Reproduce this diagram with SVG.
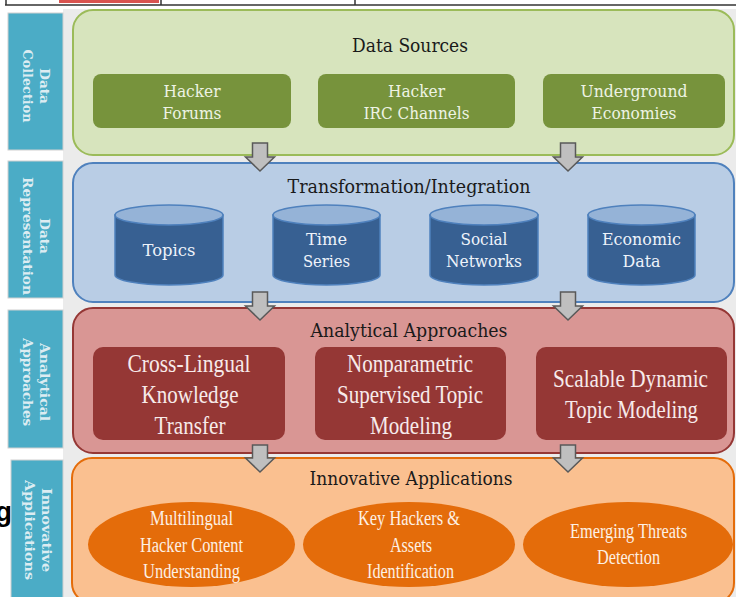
<svg xmlns="http://www.w3.org/2000/svg" width="736" height="597" viewBox="0 0 736 597">
<defs>
<style>
.side{fill:#4bacc6;stroke:#d0d0d0;stroke-width:1}
.sidet{font-family:"DejaVu Serif",serif;font-weight:bold;font-size:13.5px;fill:#dcecf2;text-anchor:middle}
.title{font-family:"DejaVu Serif",serif;font-size:18px;fill:#1a1a1a;text-anchor:middle}
.gt{font-family:"DejaVu Serif",serif;font-size:17px;fill:#eef3e4;text-anchor:middle}
.bt{font-family:"DejaVu Serif",serif;font-size:17px;fill:#eef3fa;text-anchor:middle}
.rt{font-family:"Liberation Serif",serif;font-size:26px;fill:#f7eaea;text-anchor:middle}
.ot{font-family:"Liberation Serif",serif;font-size:20px;fill:#fdf0e4;text-anchor:middle}
.arr{fill:#bfbfbf;stroke:#595959;stroke-width:1.5;stroke-linejoin:miter}
.cylb{fill:#376092;stroke:#4f81bd;stroke-width:1.5}
.cylt{fill:#95b3d7;stroke:#4f81bd;stroke-width:1.5}
</style>
</defs>
<rect x="0" y="0" width="736" height="597" fill="#ffffff"/>
<rect x="63" y="9" width="673" height="588" fill="#ebebeb"/>
<g id="topstrip">
<rect x="59" y="0" width="100" height="3" fill="#d9534f"/>
<line x1="5" y1="5" x2="736" y2="5" stroke="#333" stroke-width="1.5"/>
<line x1="6" y1="0" x2="6" y2="5" stroke="#333" stroke-width="1.5"/>
<line x1="161" y1="0" x2="161" y2="5" stroke="#333" stroke-width="1.5"/>
<line x1="355" y1="0" x2="355" y2="5" stroke="#333" stroke-width="1.5"/>
</g>
<text x="-5" y="521" font-family="Liberation Sans,sans-serif" font-weight="bold" font-size="28" fill="#000">g</text>
<g id="side-collection">
<rect class="side" x="8" y="13" width="55" height="137"/>
<g transform="translate(35.5,86) rotate(90)"><text class="sidet" x="0" y="-4.5" textLength="36" lengthAdjust="spacingAndGlyphs">Data</text><text class="sidet" x="0" y="12.5" textLength="73" lengthAdjust="spacingAndGlyphs">Collection</text></g>
</g>
<g id="side-representation">
<rect class="side" x="8" y="161" width="55" height="137"/>
<g transform="translate(35.5,236) rotate(90)"><text class="sidet" x="0" y="-4.5" textLength="36" lengthAdjust="spacingAndGlyphs">Data</text><text class="sidet" x="0" y="12.5" textLength="118" lengthAdjust="spacingAndGlyphs">Representation</text></g>
</g>
<g id="side-analytical">
<rect class="side" x="8" y="310" width="55" height="138"/>
<g transform="translate(35.5,382) rotate(90)"><text class="sidet" x="0" y="-4.5" textLength="78" lengthAdjust="spacingAndGlyphs">Analytical</text><text class="sidet" x="0" y="12.5" textLength="88" lengthAdjust="spacingAndGlyphs">Approaches</text></g>
</g>
<g id="side-innovative">
<rect class="side" x="11" y="460" width="52" height="140"/>
<g transform="translate(37,530) rotate(90)"><text class="sidet" x="0" y="-4.5" textLength="84" lengthAdjust="spacingAndGlyphs">Innovative</text><text class="sidet" x="0" y="12.5" textLength="100" lengthAdjust="spacingAndGlyphs">Applications</text></g>
</g>
<g id="panel-data-sources">
<rect x="73" y="10" width="661" height="145" rx="20" fill="#d7e4bd" stroke="#9bbb59" stroke-width="2"/>
<text class="title" x="410" y="52" textLength="116" lengthAdjust="spacingAndGlyphs">Data Sources</text>
</g>
<g id="node-hacker-forums">
<rect x="93" y="74" width="198" height="54" rx="8" fill="#77933c"/>
<text class="gt" x="192" y="97" textLength="57" lengthAdjust="spacingAndGlyphs">Hacker</text><text class="gt" x="192" y="119" textLength="59" lengthAdjust="spacingAndGlyphs">Forums</text>
</g>
<g id="node-irc">
<rect x="318" y="74" width="197" height="54" rx="8" fill="#77933c"/>
<text class="gt" x="416.5" y="97" textLength="57" lengthAdjust="spacingAndGlyphs">Hacker</text><text class="gt" x="416.5" y="119" textLength="106" lengthAdjust="spacingAndGlyphs">IRC Channels</text>
</g>
<g id="node-underground">
<rect x="543" y="74" width="182" height="54" rx="8" fill="#77933c"/>
<text class="gt" x="634" y="97" textLength="107" lengthAdjust="spacingAndGlyphs">Underground</text><text class="gt" x="634" y="119" textLength="85" lengthAdjust="spacingAndGlyphs">Economies</text>
</g>
<g id="panel-transformation">
<rect x="73" y="163" width="661" height="139" rx="20" fill="#b9cde5" stroke="#4f81bd" stroke-width="2"/>
<text class="title" x="409" y="193" textLength="243" lengthAdjust="spacingAndGlyphs">Transformation/Integration</text>
</g>
<g id="node-topics">
<path class="cylb" d="M115,215 V275 A54,10 0 0 0 223,275 V215 Z"/>
<ellipse class="cylt" cx="169" cy="215" rx="54" ry="10"/>
<text class="bt" x="169" y="256" textLength="53" lengthAdjust="spacingAndGlyphs">Topics</text>
</g>
<g id="node-time-series">
<path class="cylb" d="M273,215 V275 A53.5,10 0 0 0 380,275 V215 Z"/>
<ellipse class="cylt" cx="326.5" cy="215" rx="53.5" ry="10"/>
<text class="bt" x="326.5" y="245" textLength="41" lengthAdjust="spacingAndGlyphs">Time</text><text class="bt" x="326.5" y="267" textLength="47" lengthAdjust="spacingAndGlyphs">Series</text>
</g>
<g id="node-social-networks">
<path class="cylb" d="M430,215 V275 A54,10 0 0 0 538,275 V215 Z"/>
<ellipse class="cylt" cx="484" cy="215" rx="54" ry="10"/>
<text class="bt" x="484" y="245" textLength="47" lengthAdjust="spacingAndGlyphs">Social</text><text class="bt" x="484" y="267" textLength="76" lengthAdjust="spacingAndGlyphs">Networks</text>
</g>
<g id="node-economic-data">
<path class="cylb" d="M588,215 V275 A53.5,10 0 0 0 695,275 V215 Z"/>
<ellipse class="cylt" cx="641.5" cy="215" rx="53.5" ry="10"/>
<text class="bt" x="641.5" y="245" textLength="79" lengthAdjust="spacingAndGlyphs">Economic</text><text class="bt" x="641.5" y="267" textLength="38" lengthAdjust="spacingAndGlyphs">Data</text>
</g>
<g id="panel-analytical">
<rect x="73" y="308" width="661" height="145" rx="20" fill="#d99694" stroke="#953735" stroke-width="2"/>
<text class="title" x="409" y="337" textLength="197" lengthAdjust="spacingAndGlyphs">Analytical Approaches</text>
</g>
<g id="node-cross-lingual">
<rect x="93" y="347" width="192" height="93" rx="10" fill="#953735"/>
<text class="rt" x="189" y="372" textLength="123" lengthAdjust="spacingAndGlyphs">Cross-Lingual</text>
<text class="rt" x="190" y="403" textLength="97" lengthAdjust="spacingAndGlyphs">Knowledge</text>
<text class="rt" x="190" y="434" textLength="71" lengthAdjust="spacingAndGlyphs">Transfer</text>
</g>
<g id="node-nonparametric">
<rect x="315" y="347" width="191" height="93" rx="10" fill="#953735"/>
<text class="rt" x="410" y="372" textLength="126" lengthAdjust="spacingAndGlyphs">Nonparametric</text>
<text class="rt" x="410" y="403" textLength="146" lengthAdjust="spacingAndGlyphs">Supervised Topic</text>
<text class="rt" x="411" y="434" textLength="82" lengthAdjust="spacingAndGlyphs">Modeling</text>
</g>
<g id="node-scalable">
<rect x="536" y="347" width="191" height="93" rx="10" fill="#953735"/>
<text class="rt" x="630.5" y="387" font-size="25" textLength="155" lengthAdjust="spacingAndGlyphs">Scalable Dynamic</text>
<text class="rt" x="631.5" y="418" font-size="25" textLength="133" lengthAdjust="spacingAndGlyphs">Topic Modeling</text>
</g>
<g id="panel-innovative">
<rect x="72" y="458" width="662" height="145" rx="20" fill="#fac090" stroke="#e46c0a" stroke-width="2"/>
<text class="title" x="411" y="485" textLength="203" lengthAdjust="spacingAndGlyphs">Innovative Applications</text>
</g>
<g id="node-multilingual">
<ellipse cx="191.5" cy="544.5" rx="103.5" ry="42.5" fill="#e46c0a"/>
<text class="ot" x="191.5" y="525" textLength="83" lengthAdjust="spacingAndGlyphs">Multilingual</text>
<text class="ot" x="191.5" y="552" textLength="103" lengthAdjust="spacingAndGlyphs">Hacker Content</text>
<text class="ot" x="191.5" y="578" textLength="97" lengthAdjust="spacingAndGlyphs">Understanding</text>
</g>
<g id="node-key-hackers">
<ellipse cx="409" cy="544.5" rx="106" ry="42.5" fill="#e46c0a"/>
<text class="ot" x="409" y="525" textLength="102" lengthAdjust="spacingAndGlyphs">Key Hackers &amp;</text>
<text class="ot" x="411" y="552" textLength="42" lengthAdjust="spacingAndGlyphs">Assets</text>
<text class="ot" x="410.5" y="578" textLength="87" lengthAdjust="spacingAndGlyphs">Identification</text>
</g>
<g id="node-emerging">
<ellipse cx="628" cy="544.5" rx="105" ry="42.5" fill="#e46c0a"/>
<text class="ot" x="628.5" y="538" textLength="117" lengthAdjust="spacingAndGlyphs">Emerging Threats</text>
<text class="ot" x="628.5" y="564" textLength="63" lengthAdjust="spacingAndGlyphs">Detection</text>
</g>
<g id="connectors">
<polygon class="arr" points="252.5,143 267.5,143 267.5,157 274.5,157 260,171 245.5,157 252.5,157"/>
<polygon class="arr" points="560.5,143 575.5,143 575.5,157 582.5,157 568,171 553.5,157 560.5,157"/>
<polygon class="arr" points="252.5,292 267.5,292 267.5,306 274.5,306 260,320 245.5,306 252.5,306"/>
<polygon class="arr" points="560.5,292 575.5,292 575.5,306 582.5,306 568,320 553.5,306 560.5,306"/>
<polygon class="arr" points="252.5,445 267.5,445 267.5,458 274.5,458 260,472 245.5,458 252.5,458"/>
<polygon class="arr" points="560.5,445 575.5,445 575.5,458 582.5,458 568,472 553.5,458 560.5,458"/>
</g>
</svg>
